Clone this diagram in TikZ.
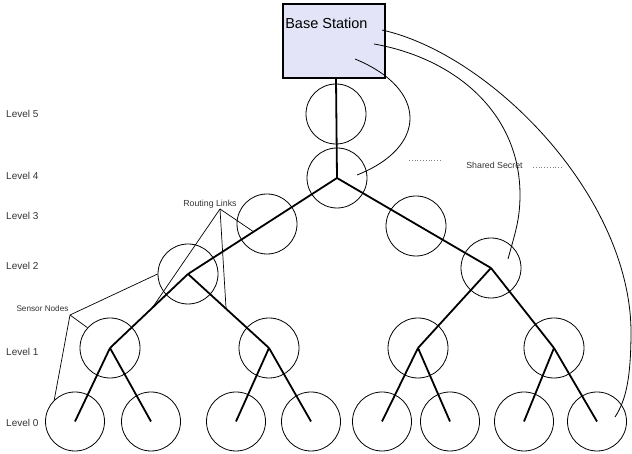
\documentclass[tikz,border=0pt]{standalone}
\usepackage{fontspec}
\setmainfont{Liberation Sans}
\usetikzlibrary{calc}
\definecolor{bsfill}{RGB}{228,228,248}
\tikzset{
    sensor/.style={draw, circle, minimum size=60pt, inner sep=0pt, line width=0.8pt},
    station/.style={draw, line width=1.8pt, fill=bsfill, minimum width=102pt, minimum height=74pt, inner sep=0pt},
    link/.style={line width=1.8pt},
    secret/.style={line width=0.8pt},
    pointer/.style={line width=0.7pt},
    lvl/.style={anchor=west, inner sep=0pt, text=black!80, font=\fontsize{10}{12}\selectfont},
    note/.style={inner sep=0pt, text=black!80, font=\fontsize{8.8}{10}\selectfont}
}
\begin{document}
\begin{tikzpicture}[x=1pt,y=1pt]
    \useasboundingbox (0,0) rectangle (632,454);
    % base station
    \node[station, label={[anchor=north west, inner sep=0pt, xshift=3pt, yshift=-15pt, font=\fontsize{14.5}{17}\selectfont]north west:Base Station}] (bs) at (334,413) {};
    % level labels
    \node[lvl] (lv5) at (6,340) {Level 5};
    \node[lvl] (lv4) at (6,278) {Level 4};
    \node[lvl] (lv3) at (6,238) {Level 3};
    \node[lvl] (lv2) at (6,188) {Level 2};
    \node[lvl] (lv1) at (6,102) {Level 1};
    \node[lvl] (lv0) at (6,31) {Level 0};
    % sensor nodes
    \node[sensor] (l5) at (336,340) {};
    \node[sensor] (l4) at (337,276) {};
    \node[sensor] (l3a) at (267,230) {};
    \node[sensor] (l3b) at (416,228) {};
    \node[sensor] (l2a) at (188,180) {};
    \node[sensor] (l2b) at (491,186) {};
    \foreach \x [count=\i] in {110,269,418,554}
    \node[sensor] (l1-\i) at (\x,106) {};
    \foreach \x [count=\i] in {75,151,236,311,382,450,524,597}
    \node[sensor, minimum size=59pt] (l0-\i) at (\x,32.5) {};
    % routing tree
    \draw[link] (bs.south -| l5.center) -- (l4.center);
    \foreach \p/\c in {l4/l2a, l4/l2b, l2a/l1-1, l2a/l1-2, l2b/l1-3, l2b/l1-4}
    \draw[link] (\p.center) -- (\c.center);
    \foreach \p/\a/\b in {1/1/2, 2/3/4, 3/5/6, 4/7/8} {
    \draw[link] (l1-\p.center) -- (l0-\a.center);
    \draw[link] (l1-\p.center) -- (l0-\b.center);
    }
    % shared secret with the base station
    \coordinate (k1) at (355,395);
    \coordinate (k1e) at (357,279);
    \coordinate (k2) at (374,410);
    \coordinate (k2e) at (508,195);
    \coordinate (k3) at (382,424);
    \coordinate (k3e) at (615,37);
    \draw[secret] (k1) .. controls (428,365) and (428,307) .. (k1e);
    \draw[secret] (k2) to[out=-10,in=90] (520,259) to[out=-90,in=75] (k2e);
    \draw[secret] (k3) .. controls (490,400) and (629,260) .. (631,124)
                       .. controls (631,80) and (627,55) .. (k3e);
    \node[note] (ss) at (494.5,289) {Shared Secret};
    \draw[dotted, gray, line width=0.8pt] (409,294) -- (442,294);
    \draw[dotted, gray, line width=0.8pt] (533,287) -- (562,287);
    % routing links
    \node[note] (rl) at (210,250) {Routing Links};
    \coordinate (rlv) at (220,245);
    \draw[pointer] (rlv) -- ($(l2a.center)!0.46!(l1-1.center)$);
    \draw[pointer] (rlv) -- ($(l2a.center)!0.47!(l1-2.center)$);
    \draw[pointer] (rlv) -- ($(l4.center)!0.56!(l2a.center)$);
    % sensor nodes
    \node[note, font=\fontsize{8.2}{10}\selectfont] (sn) at (42.5,145) {Sensor Nodes};
    \coordinate (snv) at (70,139);
    \draw[pointer] (snv) -- (l2a.180);
    \draw[pointer] (snv) -- (l1-1.138);
    \draw[pointer] (snv) -- (l0-1.134);
\end{tikzpicture}
\end{document}
